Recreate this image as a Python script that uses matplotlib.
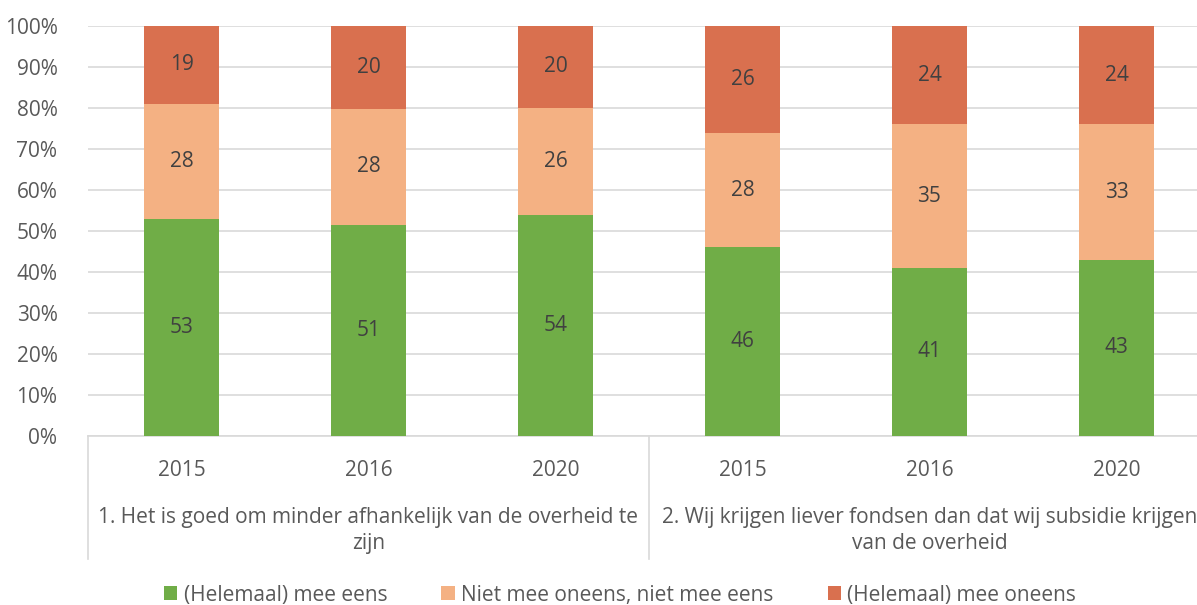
import numpy as np
import matplotlib.pyplot as plt

plt.rcParams['font.family'] = ['Open Sans', 'DejaVu Sans']

years = ['2015', '2016', '2020', '2015', '2016', '2020']
groups = ['1. Het is goed om minder afhankelijk van de overheid te\nzijn',
          '2. Wij krijgen liever fondsen dan dat wij subsidie krijgen\nvan de overheid']
series = ['(Helemaal) mee eens', 'Niet mee oneens, niet mee eens', '(Helemaal) mee oneens']
eens = [53, 51, 54, 46, 41, 43]
neutraal = [28, 28, 26, 28, 35, 33]
oneens = [19, 20, 20, 26, 24, 24]
colors = ['#70ad47', '#f4b183', '#d9704f']

vals = np.array([eens, neutraal, oneens], dtype=float)
shares = vals / vals.sum(axis=0) * 100
fs = 15

fig = plt.figure(figsize=(11.97, 6.05), dpi=100)
ax = fig.add_axes([88 / 1197, 169 / 605, 1122 / 1197, 410 / 605])

x = np.arange(len(years))
bottom = np.zeros(len(years))
for i in range(3):
    ax.bar(x, shares[i], 0.4, bottom=bottom, color=colors[i], label=series[i], zorder=3)
    for xi, b, h, v in zip(x, bottom, shares[i], vals[i]):
        ax.text(xi, b + h / 2, f'{v:.0f}', ha='center', va='center', fontsize=fs, color='#404040', zorder=4)
    bottom += shares[i]

ax.set_xlim(-0.5, len(years) - 0.5)
ax.set_ylim(0, 100)
ax.set_yticks(np.arange(0, 101, 10))
ax.set_yticklabels([f'{t}%' for t in range(0, 101, 10)])
ax.tick_params(axis='y', length=0, labelsize=fs, labelcolor='#595959', pad=22)
ax.set_xticks(x)
ax.set_xticklabels(years)
ax.tick_params(axis='x', length=0, labelsize=fs, labelcolor='#595959', pad=17)
ax.grid(axis='y', color='#d9d9d9', linewidth=1.2, zorder=0)
for s in ['top', 'right', 'left']:
    ax.spines[s].set_visible(False)
ax.spines['bottom'].set_color('#d9d9d9')
ax.spines['bottom'].set_linewidth(1.2)

# group separators and labels below the year ticks
trans = ax.get_xaxis_transform()
for xs in [-0.5, 2.5]:
    ax.plot([xs, xs], [0, -0.30], transform=trans, color='#d9d9d9', linewidth=1.2, clip_on=False)
for gi, label in enumerate(groups):
    ax.text(gi * 3 + 1, -0.172, label, transform=trans, ha='center', va='top',
            fontsize=fs, color='#595959', linespacing=1.35)

fig.legend(loc='lower center', bbox_to_anchor=(0.518, -0.032), ncol=3, frameon=False,
           fontsize=fs, labelcolor='#595959', handlelength=0.65, handleheight=0.65,
           handletextpad=0.3, columnspacing=2.6)

fig.savefig('out.png', dpi=100)
